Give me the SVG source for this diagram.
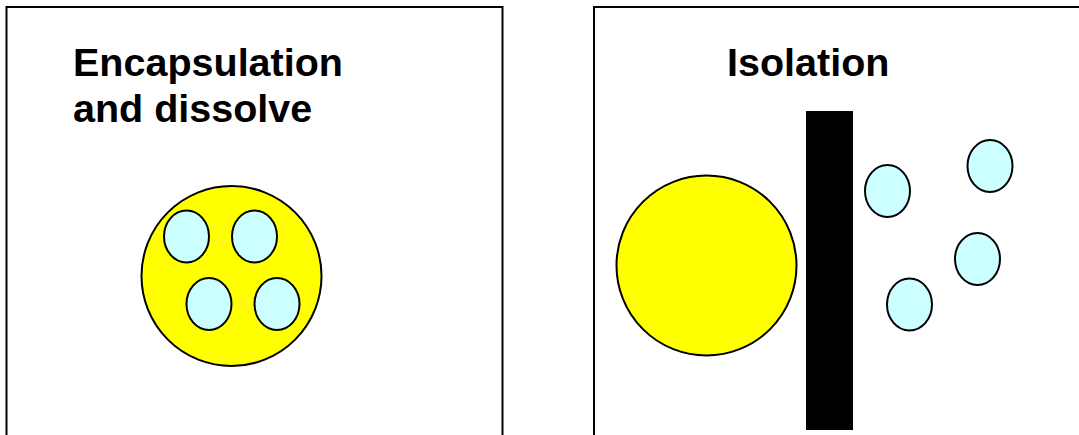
<svg xmlns="http://www.w3.org/2000/svg" width="1079" height="435" viewBox="0 0 1079 435">
<style>
.frame{fill:none;stroke:#000;stroke-width:2}
.big{fill:#ffff00;stroke:#000;stroke-width:2}
.drop{fill:#ccffff;stroke:#000;stroke-width:2}
.title{font-family:"Liberation Sans",Arial,sans-serif;font-weight:bold;font-size:39.5px;fill:#000}
</style>
<rect width="1079" height="435" fill="#fff"/>
<g id="panel-left">
<rect class="frame" x="6.5" y="7" width="496" height="440"/>
<text class="title" x="73" y="76">Encapsulation</text>
<text class="title" x="73" y="122">and dissolve</text>
<circle class="big" cx="231.5" cy="276" r="90"/>
<ellipse class="drop" cx="186.5" cy="236.5" rx="22.5" ry="26"/>
<ellipse class="drop" cx="254.5" cy="236.5" rx="22.5" ry="26"/>
<ellipse class="drop" cx="209" cy="304" rx="22.5" ry="26"/>
<ellipse class="drop" cx="277" cy="304" rx="22.5" ry="26"/>
</g>
<g id="panel-right">
<rect class="frame" x="594" y="7" width="500" height="440"/>
<text class="title" x="727" y="76">Isolation</text>
<circle class="big" cx="706.5" cy="265.5" r="90"/>
<rect x="806" y="111" width="47" height="319" fill="#000"/>
<ellipse class="drop" cx="887.5" cy="191" rx="22.5" ry="26"/>
<ellipse class="drop" cx="990" cy="166" rx="22.5" ry="26"/>
<ellipse class="drop" cx="977.5" cy="259" rx="22.5" ry="26"/>
<ellipse class="drop" cx="909.5" cy="304.5" rx="22.5" ry="26"/>
</g>
</svg>
